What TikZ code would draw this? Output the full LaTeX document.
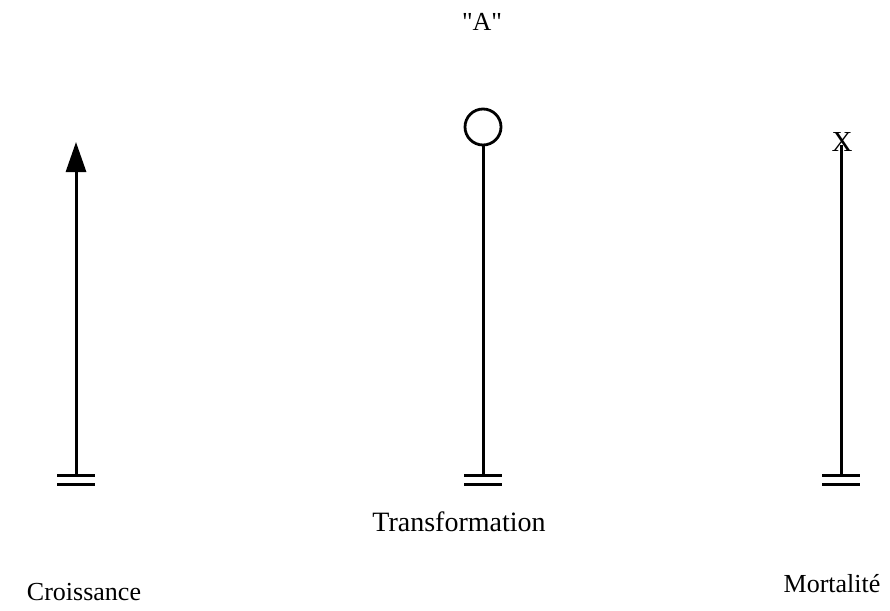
\documentclass[tikz,border=0pt]{standalone}
\usepackage{fontspec}
\setmainfont{Liberation Serif}[Ligatures=TeXOff]
\usetikzlibrary{arrows.meta, positioning}

\begin{document}
\begin{tikzpicture}[
    x=1pt, y=-1pt,
    stem/.style = {draw, line width=3pt},
    ground/.style = {draw, line width=3pt},
    lbl/.style = {font=\fontsize{26}{30}\selectfont, inner sep=0pt},
    source/.style = {circle, draw, line width=2.8pt, minimum size=36pt, inner sep=0pt}
  ]
  \useasboundingbox (0, 0) rectangle (890, 610);

  % bases of the three stems
  \coordinate (baseC) at (76, 475);
  \coordinate (baseT) at (483, 475);
  \coordinate (baseM) at (841, 475);

  % tops of the stems
  \coordinate (tipC) at (76, 142);
  \node[source] (circT) at (483, 127) {};
  \node[lbl, font=\fontsize{29}{32}\selectfont] (crossM) at (842, 142) {X};

  % stems
  \path[stem, -{Triangle[length=30pt, width=20pt]}] (baseC) -- (tipC);
  \path[stem] (baseT) -- (circT.south);
  \path[stem] (baseM) -- (841, 145);

  % double bars under each stem
  \foreach \b in {baseC, baseT, baseM} {
    \path[ground] ([xshift=-19pt]\b) -- ([xshift=19pt]\b);
    \path[ground] ([xshift=-19pt, yshift=-9pt]\b) -- ([xshift=19pt, yshift=-9pt]\b);
  }

  % labels
  \node[lbl] (lblA)     at (482, 22)  {"A"};
  \node[lbl, font=\fontsize{28}{32}\selectfont] (lblTrans) at (459, 522) {Transformation};
  \node[lbl] (lblCroi)  at (84, 592)  {Croissance};
  \node[lbl] (lblMort)  at (832, 584) {Mortalité};
\end{tikzpicture}
\end{document}
